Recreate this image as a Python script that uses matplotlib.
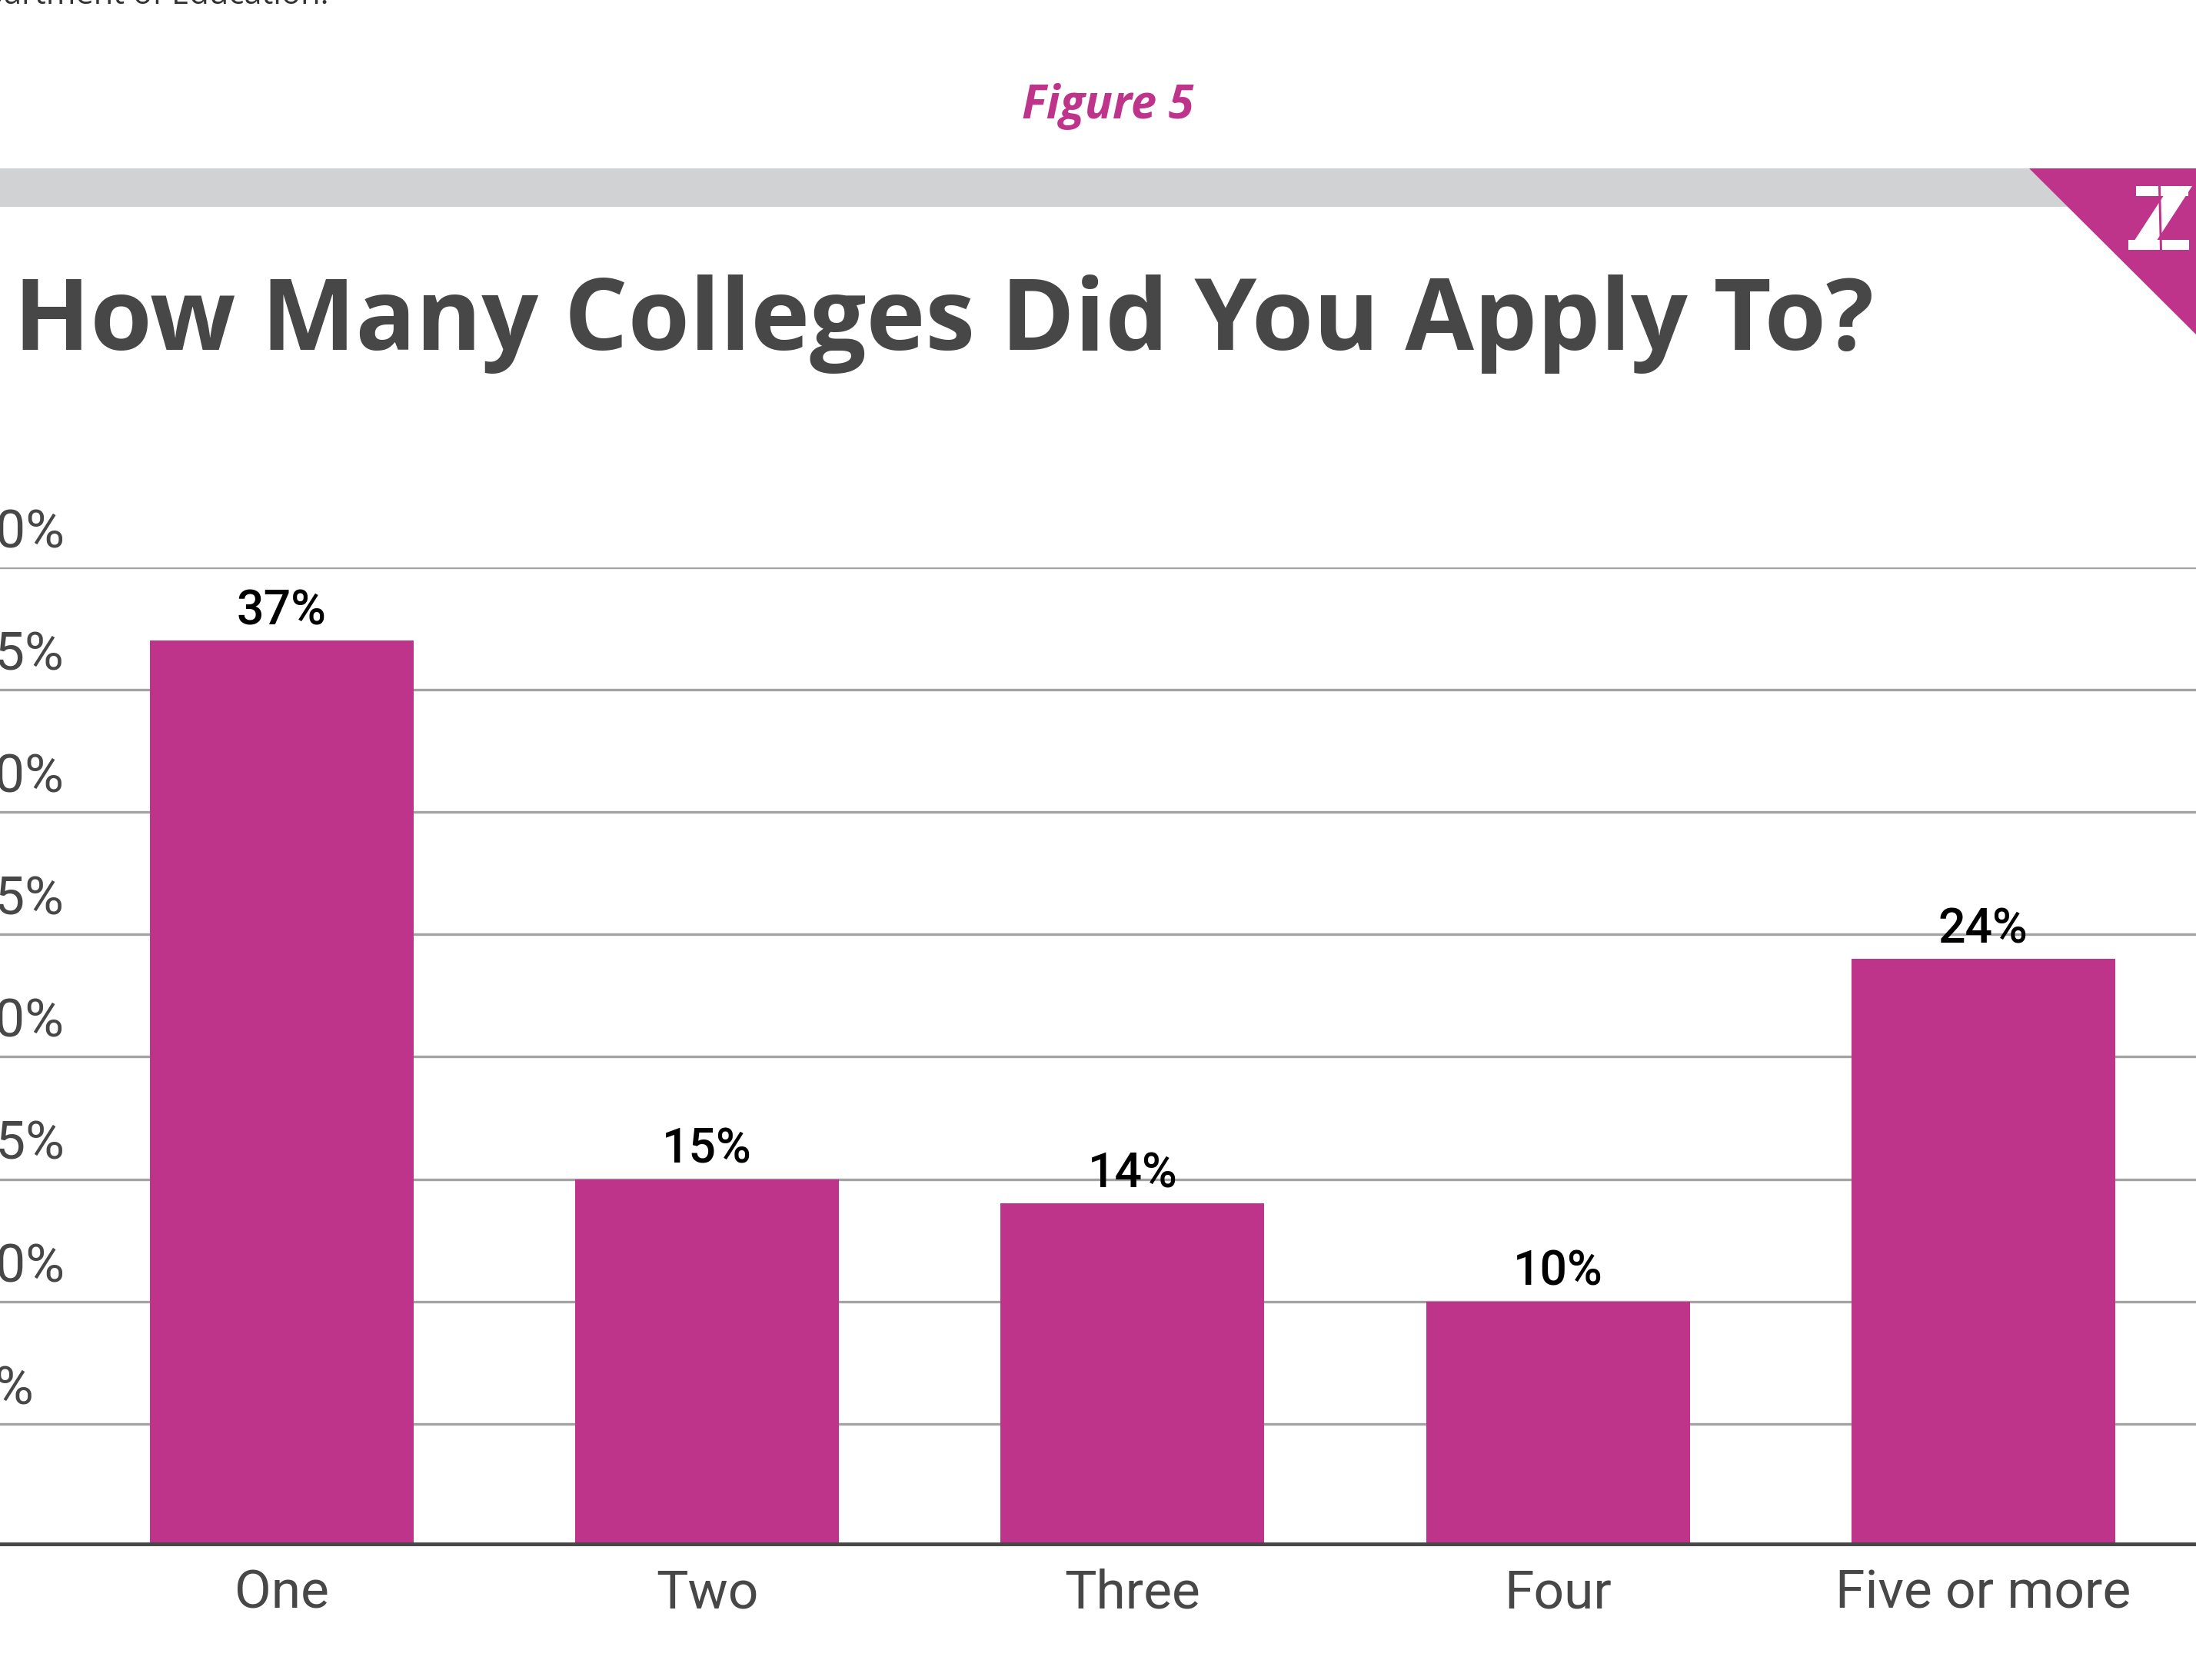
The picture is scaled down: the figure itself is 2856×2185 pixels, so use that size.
import numpy as np
import matplotlib.pyplot as plt
from matplotlib.patches import Polygon, Rectangle
from matplotlib.transforms import blended_transform_factory

# Survey answers: number of colleges applied to
categories = ["One", "Two", "Three", "Four", "Five or more"]
shares = [37, 15, 14, 10, 24]
yticks = [5, 10, 15, 20, 25, 30, 35, 40]

MAGENTA = "#BF348B"
DARK = "#474747"
GRID = "#A3A3A3"
BAND = "#D1D2D4"

W, H = 2856, 2185
fig = plt.figure(figsize=(W / 100, H / 100), dpi=100)

# page decorations drawn in pixel space
deco = fig.add_axes([0, 0, 1, 1])
deco.set_xlim(0, W)
deco.set_ylim(H, 0)
deco.axis("off")

deco.add_patch(Rectangle((0, 219), W, 50, color=BAND, lw=0))
deco.add_patch(Polygon([(2639, 219), (W, 219), (W, 435)], closed=True, color=MAGENTA, lw=0))
# little Z logo in the corner
deco.add_patch(Rectangle((2778, 242), 68, 13, color="white", lw=0))
deco.add_patch(Polygon([(2822, 242), (2851, 242), (2797, 325), (2768, 325)], closed=True, color="white", lw=0))
deco.add_patch(Rectangle((2768, 312), 79, 13, color="white", lw=0))
deco.add_patch(Polygon([(2807, 242), (2810, 242), (2812, 325), (2809, 325)], closed=True, color=MAGENTA, lw=0))

deco.text(428, 5, "U.S. Department of Education.", ha="right", va="baseline",
          fontsize=30, family="Open Sans", color="#333333")
deco.text(1441, 154, "Figure 5", ha="center", va="baseline", fontsize=43,
          family="Open Sans", fontweight="bold", fontstyle="italic", color=MAGENTA)
deco.text(18, 455, "How Many Colleges Did You Apply To?", ha="left", va="baseline",
          fontsize=93.5, family="Open Sans", fontweight="bold", color=DARK)

# bar chart
ax = fig.add_axes([0, 1 - 2011 / H, 1, (2011 - 737.7) / H])
ax.set_xlim(-0.662, 4.5)
ax.set_ylim(0, 40)
ax.axis("off")

x = np.arange(len(categories))
for v in yticks:
    ax.axhline(v, color=GRID, lw=2.4, zorder=1)
ax.bar(x, shares, width=0.62, color=MAGENTA, zorder=2)
ax.axhline(0, color=DARK, lw=7, zorder=3)

lab_tr = blended_transform_factory(fig.transFigure, ax.transData)
for v in yticks:
    ax.text(-45 / W, v + 1.4, f"{v}%", transform=lab_tr, ha="left", va="center",
            fontsize=50, family="Roboto", color=DARK, clip_on=False)

for xi, v in zip(x, shares):
    ax.text(xi, v + 0.65, f"{v}%", ha="center", va="baseline", fontsize=45,
            family="Roboto", fontweight="medium", color="black", clip_on=False)

for xi, name in zip(x, categories):
    ax.text(xi, -2.54, name, ha="center", va="baseline", fontsize=50,
            family="Roboto", color=DARK, clip_on=False)

fig.savefig("out.png", dpi=100)
